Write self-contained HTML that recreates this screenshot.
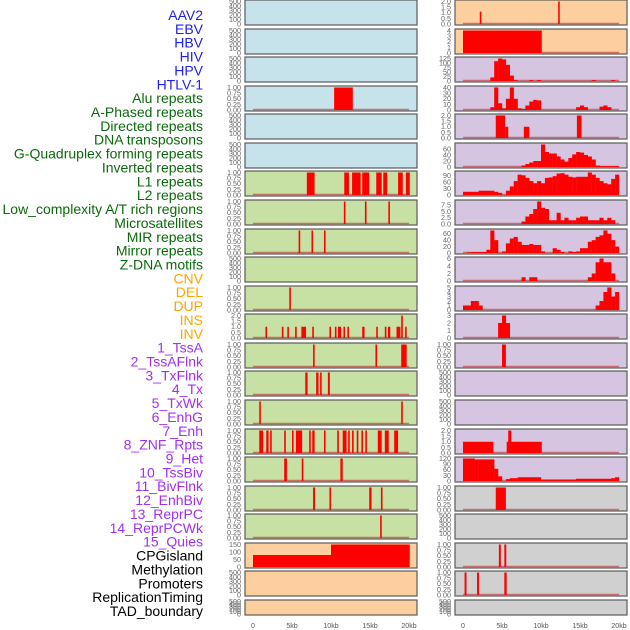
<!DOCTYPE html>
<html><head><meta charset="utf-8">
<style>
html,body{margin:0;padding:0;background:#fff;width:630px;height:630px;overflow:hidden}
svg{display:block}
text{font-family:"Liberation Sans",sans-serif}
</style></head>
<body>
<svg id="chart" width="630" height="630" viewBox="0 0 630 630"></svg>
<script>
// ---- Track labels ----
const labelNames = ["AAV2","EBV","HBV","HIV","HPV","HTLV-1",
 "Alu repeats","A-Phased repeats","Directed repeats","DNA transposons","G-Quadruplex forming repeats","Inverted repeats","L1 repeats","L2 repeats","Low_complexity A/T rich regions","Microsatellites","MIR repeats","Mirror repeats","Z-DNA motifs",
 "CNV","DEL","DUP","INS","INV",
 "1_TssA","2_TssAFlnk","3_TxFlnk","4_Tx","5_TxWk","6_EnhG","7_Enh","8_ZNF_Rpts","9_Het","10_TssBiv","11_BivFlnk","12_EnhBiv","13_ReprPC","14_ReprPCWk","15_Quies",
 "CPGisland","Methylation","Promoters","ReplicationTiming","TAD_boundary"];
const labelGroups = [6,13,5,15,5];
const groupColors = ["#2020ee","#0a6a0a","#ffa500","#a030f0","#000000"];

// ---- x axis ----
const xTicks = [0,5,10,15,20];
const xTickLabels = ["0","5kb","10kb","15kb","20kb"];

// ---- tick sets ----
const ticksEmpty = [0,100,200,300,400,500];
const ticksOne = [0,0.25,0.5,0.75,1];
const ticksTwo = [0,0.5,1,1.5,2];

// ---- Left column interval data [startKb,endKb,value] ----
const L4 = [[10.4,12.8,1]];
const L7 = [[6.9,7.9,1],[11.7,12.3,1],[12.7,13.8,1],[14.0,14.9,1],[15.8,16.5,1],[16.7,17.2,1],[18.6,19.2,1],[19.6,20.1,1]];
const L8 = [[11.65,11.8,1],[14.35,14.5,1],[17.35,17.5,1]];
const L9 = [[5.85,6.05,1],[7.5,7.7,1],[9.1,9.3,1]];
const L11 = [[4.65,4.8,1]];
const L12 = [[1.6,1.8,1],[3.7,3.9,1],[4.4,4.6,1],[5.4,5.6,1],[6.2,6.8,1],[7.6,7.8,1],[9.8,10.0,1],[10.5,10.7,1],[10.9,11.3,1],[11.6,11.8,1],[12.1,12.3,1],[14.0,14.3,1],[15.8,16.0,1],[16.9,17.1,1],[17.3,17.6,1],[18.4,18.9,1],[19.0,19.2,2],[19.5,19.7,1]];
const L13 = [[7.7,7.9,1],[15.7,15.9,1],[19.0,19.7,1]];
const L14 = [[6.7,7.0,1],[8.1,8.4,1],[8.6,8.8,1],[9.6,9.85,1]];
const L15 = [[0.8,1.0,1],[19.0,19.2,1]];
const L16 = [[0.8,1.3,1],[1.7,2.0,1],[2.2,2.4,1],[4.0,4.2,1],[5.0,5.2,1],[5.5,6.3,1],[7.2,7.4,1],[7.6,7.9,1],[9.1,9.3,1],[10.8,11.0,1],[11.5,12.0,1],[12.2,12.4,1],[12.7,12.9,1],[13.3,13.5,1],[13.9,14.1,1],[14.4,14.6,1],[16.0,16.5,1],[16.9,17.4,1],[18.1,18.6,1]];
const L17 = [[4.0,4.35,1],[6.25,6.45,1],[11.2,11.5,1]];
const L18 = [[7.7,7.95,1],[9.8,10.0,1],[14.9,15.2,1],[16.4,16.6,1]];
const L19 = [[16.3,16.5,1]];
const L20 = [[0,10,80],[10,20.1,150]];

// ---- Right column data ----
const R1 = [[2.15,2.3,1.1],[12.2,12.35,2]];
const R2 = [[0,10.1,4]];
const R3 = [0,0,0,0,0,0,0,20,110,125,120,90,30,5,0,0,0,5,0,5,0,0,0,0,0,0,0,0,0,0,0,0,0,5,0,0,0,0,5,0];
const R4 = [0,0,0,0,0,0,0,5,40,12,3,20,40,20,3,2,8,15,18,17,0,0,0,0,0,0,0,0,0,5,8,5,0,0,0,6,8,5,0,0];
const R5 = [[4.2,5.4,2],[5.4,5.8,1],[7.8,8.5,1],[14.6,15.2,2]];
const R6 = [0,0,0,0,0,0,0,0,0,0,0,0,0,0,0,5,10,15,20,20,75,50,45,45,35,25,18,30,42,50,48,40,35,25,5,3,3,3,3,3];
const R7 = [15,15,15,15,20,20,20,20,15,10,0,20,40,65,95,92,80,65,55,65,55,80,82,88,100,102,95,85,82,85,85,85,105,95,80,65,55,50,75,95];
const R8 = [0,0,0,0,0,0,0,0,0,0,0,0,0,0,0,1,3,4,6,9,6.5,6,1.5,1.5,4.5,1.5,2.5,1.5,1.5,2.5,3,3,1.5,1.5,1.5,2.5,1.5,2.5,1.5,0];
const R9 = [0,2,3,3,3,3,10,70,40,0,5,30,45,50,35,25,25,28,25,25,5,0,0,15,10,3,0,5,3,5,15,15,35,40,50,55,70,60,40,20];
const R10 = [0,0,0,0,0,0,0,0,0,0,0,0,0,0,0,1,0,1,1,0,0,0,0,0,0,0,0,0,0,0,0,0,1,2,5,6,5,5,2,0];
const R11 = [1,1,2,2,1,0,0,0,0,0,0,0,0,0,0,0,0,0,0,0,0,0,0,0,0,0,0,0,0,0,0,0,0,0,1,2,4,5,3,4];
const R12 = [0,0,0,0,0,0,0,0,0,2,3,2,0,0,0,0,0,0,0,0,0,0,0,0,0,0,0,0,0,0,0,0,0,0,0,0,0,0,0,0];
const R13 = [[5.0,5.5,1]];
const R16 = [[0,3.9,1],[5.6,10.1,1],[5.8,6.2,2]];
const R17 = [120,120,120,115,115,115,115,115,65,25,0,10,15,15,20,20,20,20,20,20,8,8,8,8,8,8,8,8,8,12,12,12,12,12,12,12,12,12,15,20];
const R18 = [[4.2,5.5,1]];
const R20 = [[4.6,4.85,1],[5.3,5.55,1]];
const R21 = [[0.2,0.45,1],[1.8,2.05,1],[5.3,5.6,1]];

const BLUE="#c6e3eb", GREEN="#c7e0a3", ORANGE="#fecf9e", PURPLE="#d5c5e1", GRAY="#d0d0d0";
const rowTops = [];
for (let i=0;i<22;i++) rowTops.push(Math.round(i*28.57));

const leftPanels = [
 [BLUE,ticksEmpty,500,null,null],[BLUE,ticksEmpty,500,null,null],[BLUE,ticksEmpty,500,null,null],
 [BLUE,ticksOne,1,"iv",L4],[BLUE,ticksEmpty,500,null,null],[BLUE,ticksEmpty,500,null,null],
 [GREEN,ticksOne,1,"iv",L7],[GREEN,ticksOne,1,"iv",L8],[GREEN,ticksOne,1,"iv",L9],
 [GREEN,ticksEmpty,500,null,null],[GREEN,ticksOne,1,"iv",L11],[GREEN,ticksTwo,2,"iv",L12],
 [GREEN,ticksOne,1,"iv",L13],[GREEN,ticksOne,1,"iv",L14],[GREEN,ticksOne,1,"iv",L15],
 [GREEN,ticksOne,1,"iv",L16],[GREEN,ticksOne,1,"iv",L17],[GREEN,ticksOne,1,"iv",L18],
 [GREEN,ticksOne,1,"iv",L19],[ORANGE,[0,50,100,150],150,"iv",L20],
 [ORANGE,ticksEmpty,500,null,null],[ORANGE,ticksEmpty,500,null,null]
];
const rightPanels = [
 [ORANGE,ticksTwo,2,"iv",R1],[ORANGE,[0,1,2,3,4],4,"iv",R2],
 [PURPLE,[0,25,50,75,100,125],125,"h",R3],[PURPLE,[0,10,20,30,40],40,"h",R4],
 [PURPLE,ticksTwo,2,"iv",R5],[PURPLE,[0,20,40,60],75,"h",R6],
 [PURPLE,[0,30,60,90],105,"h",R7],[PURPLE,[0,2.5,5,7.5],9,"h",R8],
 [PURPLE,[0,20,40,60],70,"h",R9],[PURPLE,[0,2,4,6],6,"h",R10],
 [PURPLE,[0,1,2,3,4,5],5,"h",R11],[PURPLE,[0,1,2,3],3,"h",R12],
 [PURPLE,ticksOne,1,"iv",R13],[PURPLE,ticksEmpty,500,null,null],[PURPLE,ticksEmpty,500,null,null],
 [PURPLE,ticksTwo,2,"iv",R16],[PURPLE,[0,30,60,90,120],120,"h",R17],
 [GRAY,ticksOne,1,"iv",R18],[GRAY,ticksEmpty,500,null,null],[GRAY,ticksOne,1,"iv",R20],
 [GRAY,ticksOne,1,"iv",R21],[GRAY,ticksEmpty,500,null,null]
];

const svg = document.getElementById('chart');
const NS = "http://www.w3.org/2000/svg";
function mk(tag, attrs, parent){ const e=document.createElementNS(NS,tag); for(const k in attrs) e.setAttribute(k,attrs[k]); (parent||svg).appendChild(e); return e; }

let li=0;
labelGroups.forEach((n,g)=>{ for(let k=0;k<n;k++){
  const t = mk('text',{x:203,y:15+li*13.86+5,'text-anchor':'end','font-size':14,fill:groupColors[g]});
  t.textContent = labelNames[li];
  
  
  li++;
}});

function fmt(v, ticks){
  const maxT = ticks[ticks.length-1];
  if (maxT===1) return v.toFixed(2);
  if (maxT===2 || maxT===7.5) return v.toFixed(1);
  return String(v);
}

function drawPanel(spec, px0, top, h, side, idx){
  const [bg,ticks,yMax,type,data] = spec;
  const pw = 172;
  const g = mk('g',{});
  
  
  mk('rect',{x:px0,y:top,width:pw,height:h,fill:bg,stroke:'#5a5a5a','stroke-width':1.2},g);
  const xS = kb => px0+8+kb*7.8;
  const yB = top+h-1, yT = top+1.5;
  const yS = v => yB-(v/yMax)*(yB-yT);
  ticks.forEach(tv=>{
    const t = mk('text',{x:px0-4,y:yS(tv)+2.4,'text-anchor':'end','font-size':7.2,fill:'#666'},g);
    t.textContent = fmt(tv,ticks);
    
    
  });
  if (type) {
    mk('line',{x1:xS(0),x2:xS(20),y1:yB-0.5,y2:yB-0.5,stroke:'rgba(190,60,60,0.65)','stroke-width':1.6},g);
  }
  if (type==="iv"){
    data.forEach(d=>{
      const x1=xS(d[0]), x2=Math.max(xS(d[1]),x1+1.6);
      const r = mk('rect',{x:x1,y:yS(d[2]),width:x2-x1,height:yB-yS(d[2]),fill:'#ff0000'},g);
      
      
    });
  } else if (type==="h"){
    data.forEach((v,i)=>{
      if (!v) return;
      const x1=xS(i*0.5), x2=xS(i*0.5+0.5);
      const r = mk('rect',{x:x1,y:yS(v),width:x2-x1+0.2,height:yB-yS(v),fill:'#ff0000'},g);
      
      
    });
  }
}

for (let i=0;i<22;i++){
  const top = rowTops[i];
  const h = i===21 ? 15 : 25;
  drawPanel(leftPanels[i],245,top,h,'left',i);
  drawPanel(rightPanels[i],455,top,h,'right',i);
}

[245,455].forEach((px0,c)=>{
  xTicks.forEach((kb,i)=>{
    const t = mk('text',{x:px0+8+kb*7.8,y:628,'text-anchor':'middle','font-size':7,fill:'#555'});
    t.textContent = xTickLabels[i];
    
    
  });
});
</script>
</body></html>
